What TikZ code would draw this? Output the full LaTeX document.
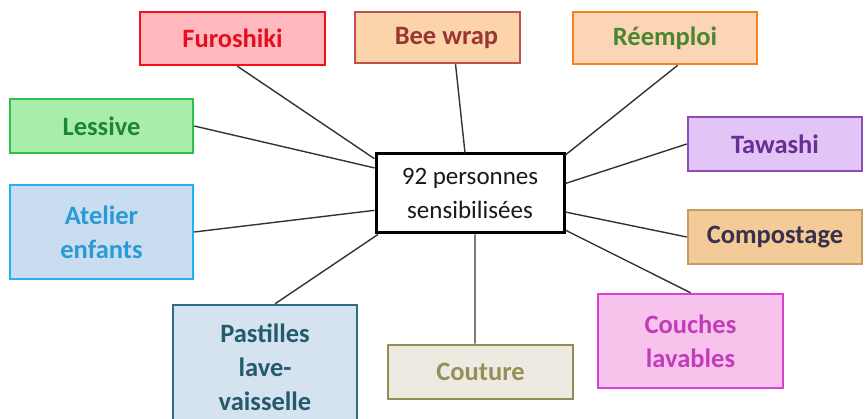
\documentclass[tikz,border=0pt]{standalone}
\usepackage{fontspec}
\setmainfont{Carlito}
\definecolor{furF}{HTML}{FFB9BE}\definecolor{furD}{HTML}{F20F1E}\definecolor{furT}{HTML}{E5101F}
\definecolor{beeF}{HTML}{FBD4A9}\definecolor{beeD}{HTML}{C0504D}\definecolor{beeT}{HTML}{993634}
\definecolor{reeF}{HTML}{FCD5B6}\definecolor{reeD}{HTML}{F58220}\definecolor{reeT}{HTML}{4A8530}
\definecolor{lesF}{HTML}{A8EEAA}\definecolor{lesD}{HTML}{2EBF4E}\definecolor{lesT}{HTML}{1D853A}
\definecolor{ateF}{HTML}{C9DDF1}\definecolor{ateD}{HTML}{21B2EF}\definecolor{ateT}{HTML}{2A9AD5}
\definecolor{tawF}{HTML}{E2C4F6}\definecolor{tawD}{HTML}{8E4CB8}\definecolor{tawT}{HTML}{6A2D91}
\definecolor{comF}{HTML}{F2CB98}\definecolor{comD}{HTML}{C69C62}\definecolor{comT}{HTML}{3A2F4D}
\definecolor{pasF}{HTML}{D5E2F0}\definecolor{pasD}{HTML}{2F6D7F}\definecolor{pasT}{HTML}{235A6C}
\definecolor{couF}{HTML}{EDEAE2}\definecolor{couD}{HTML}{958E52}\definecolor{couT}{HTML}{968F5A}
\definecolor{chF}{HTML}{F7C3EC}\definecolor{chD}{HTML}{D942D1}\definecolor{chT}{HTML}{C23CBA}
\definecolor{linkC}{HTML}{333333}
\tikzset{
  box/.style={rectangle, line width=2.5pt, inner sep=0pt, align=center,
    font=\fontsize{26.5}{34}\selectfont\bfseries},
  centerbox/.style={rectangle, draw=black, fill=white, line width=3pt, inner sep=0pt, align=center,
    minimum width=188pt, minimum height=79pt, text=black!90,
    font=\fontsize{25}{34}\selectfont},
  link/.style={draw=linkC, line width=1.4pt}
}
\begin{document}
\begin{tikzpicture}[x=1pt,y=-1pt]
\useasboundingbox (0,0) rectangle (865,419);
\clip (0,0) rectangle (865,419);
\fill[white] (0,0) rectangle (865,419);
\node[centerbox] (c) at (470,193.5) {92 personnes\\sensibilisées};
\node[box, fill=furF, draw=furD, text=furT, minimum width=185pt, minimum height=53pt] (fur) at (232.5,38.5) {Furoshiki};
\node[box, fill=beeF, draw=beeD, text=beeT, minimum width=165pt, minimum height=51pt] (bee) at (437.5,37.5) {\hspace*{18pt}Bee wrap};
\node[box, fill=reeF, draw=reeD, text=reeT, minimum width=184pt, minimum height=52pt] (ree) at (665,38) {Réemploi};
\node[box, fill=lesF, draw=lesD, text=lesT, minimum width=183pt, minimum height=54pt] (les) at (101.5,126) {Lessive};
\node[box, fill=ateF, draw=ateD, text=ateT, minimum width=183pt, minimum height=94pt] (ate) at (101.5,232) {Atelier\\enfants};
\node[box, fill=tawF, draw=tawD, text=tawT, minimum width=174pt, minimum height=54pt] (taw) at (775,144) {Tawashi};
\node[box, fill=comF, draw=comD, text=comT, minimum width=174pt, minimum height=54pt] (com) at (775,237) {Compostage};
\node[box, fill=pasF, draw=pasD, text=pasT, minimum width=184pt, minimum height=125pt] (pas) at (265,367.5) {Pastilles\\lave-\\vaisselle};
\node[box, fill=couF, draw=couD, text=couT, minimum width=185pt, minimum height=54pt] (cou) at (480.5,372) {Couture};
\node[box, fill=chF, draw=chD, text=chT, minimum width=185pt, minimum height=94pt] (ch) at (690.5,341) {Couches\\lavables};
\draw[link] (fur.280) -- (c.160);
\draw[link] (bee.304) -- (c.97);
\draw[link] (ree.295) -- (c.22);
\draw[link] (les.east) -- (c.165);
\draw[link] (ate.east) -- (c.190);
\draw[link] (taw.west) -- (c.6);
\draw[link] (com.west) -- (c.349);
\draw[link] (ch.north) -- (c.339);
\draw[link] (cou.101) -- (c.277);
\draw[link] (pas.81) -- (c.204);
\end{tikzpicture}
\end{document}
